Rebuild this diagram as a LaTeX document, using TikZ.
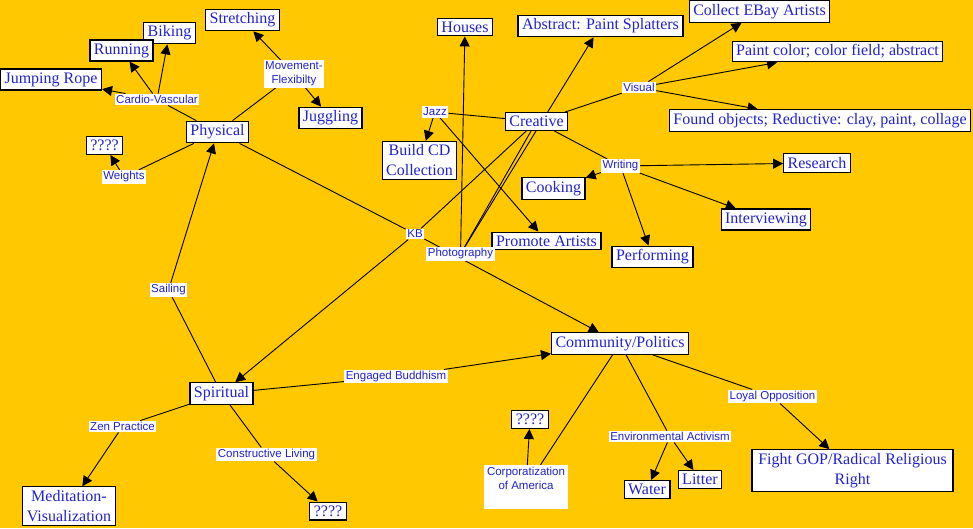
\documentclass[tikz,border=0pt]{standalone}
\usepackage{fontspec}
\setmainfont{Liberation Serif}
\newfontfamily\linkfont{Liberation Sans}
\usetikzlibrary{arrows.meta}
\definecolor{bgyellow}{HTML}{FFC800}
\definecolor{txtblue}{HTML}{2222CC}
\pgfdeclarelayer{bg}
\pgfdeclarelayer{edges}
\pgfsetlayers{bg,edges,main}
\tikzset{
  concept/.style={draw=black, line width=1.2pt, fill=white, text=txtblue,
    font=\fontsize{16}{20}\selectfont, inner xsep=4pt, inner ysep=3.5pt, align=center},
  linkph/.style={fill=white, text=txtblue, font=\linkfont\fontsize{11.5}{14}\selectfont,
    inner xsep=1.5pt, inner ysep=1.5pt, align=center},
  ln/.style={draw=black, line width=0.9pt},
  arr/.style={ln, -{Triangle[length=10pt,width=10pt]}}
}
\begin{document}
\begin{tikzpicture}[x=1pt,y=-1pt]
\begin{pgfonlayer}{bg}
\fill[bgyellow] (0,0) rectangle (973,528);
\end{pgfonlayer}
\useasboundingbox (0,0) rectangle (973,528);

% concepts
\node[concept] (stretch) at (242.5,20) {Stretching};
\node[concept] (biking) at (169.5,33) {Biking};
\node[concept] (running) at (121.5,50.5) {Running};
\node[concept] (jump) at (51,79.5) {Jumping Rope};
\node[concept] (juggling) at (330.5,118) {Juggling};
\node[concept] (physical) at (217.5,132) {Physical};
\node[concept] (q1) at (104.5,145.5) {????};
\node[concept] (houses) at (465,27) {Houses};
\node[concept] (abstract) at (600.5,26) {Abstract: Paint Splatters};
\node[concept] (ebay) at (759.5,11.5) {Collect EBay Artists};
\node[concept] (paintcolor) at (837.5,51.5) {Paint color; color field; abstract};
\node[concept] (found) at (820,120.5) {Found objects; Reductive: clay, paint, collage};
\node[concept] (creative) at (536.5,121.5) {Creative};
\node[concept] (buildcd) at (419.5,160.5) {Build CD\\Collection};
\node[concept] (cooking) at (553.5,188.5) {Cooking};
\node[concept] (research) at (817,163) {Research};
\node[concept] (interview) at (766,219.5) {Interviewing};
\node[concept] (promote) at (546.5,241) {Promote Artists};
\node[concept] (perform) at (652.5,257) {Performing};
\node[concept] (community) at (620,343.5) {Community/Politics};
\node[concept] (spiritual) at (221.5,393.5) {Spiritual};
\node[concept] (q2) at (530,419.5) {????};
\node[concept] (water) at (647,489.5) {Water};
\node[concept] (litter) at (700,479.5) {Litter};
\node[concept, minimum width=201pt] (fight) at (852.5,470.5) {Fight GOP/Radical Religious\\Right};
\node[concept] (medit) at (69,506) {Meditation-\\Visualization};
\node[concept] (q3) at (328,511) {????};

% linking phrases
\node[linkph] (cardio) at (157,99.5) {Cardio-Vascular};
\node[linkph] (movflex) at (294,74) {Movement-\\Flexibilty};
\node[linkph] (weights) at (124,177) {Weights};
\node[linkph] (jazz) at (435,112) {Jazz};
\node[linkph] (visual) at (639,87.5) {Visual};
\node[linkph] (writing) at (620.5,166) {Writing};
\node[linkph] (kb) at (415,234) {KB};
\node[linkph] (photo) at (460.5,254) {Photography};
\node[linkph] (sailing) at (168.5,290) {Sailing};
\node[linkph] (engaged) at (396,376.5) {Engaged Buddhism};
\node[linkph] (zen) at (122.5,426.5) {Zen Practice};
\node[linkph] (constr) at (266.5,454.5) {Constructive Living};
\node[linkph, inner sep=2pt] (corp) at (526,487) {\parbox[c][40pt][t]{80pt}{\centering Corporatization\\of America}};
\node[linkph] (envact) at (670,436.5) {Environmental Activism};
\node[linkph] (loyal) at (772.5,396.5) {Loyal Opposition};

\begin{pgfonlayer}{edges}
\draw[ln] (physical) -- (cardio);
\draw[arr] (cardio) -- (jump);
\draw[arr] (cardio) -- (running);
\draw[arr] (cardio) -- (biking);
\draw[ln] (physical) -- (movflex);
\draw[arr] (movflex) -- (stretch);
\draw[arr] (movflex) -- (juggling);
\draw[ln] (physical) -- (weights);
\draw[arr] (weights) -- (q1);
\draw[ln] (physical) -- (kb);
\draw[ln] (creative) -- (kb);
\draw[arr] (kb) -- (spiritual);
\draw[arr] (kb) -- (community);
\draw[ln] (spiritual) -- (sailing);
\draw[arr] (sailing) -- (physical);
\draw[ln] (creative) -- (jazz);
\draw[arr] (jazz) -- (buildcd);
\draw[arr] (jazz) -- (promote);
\draw[ln] (creative) -- (photo);
\draw[arr] (photo) -- (houses);
\draw[arr] (photo) -- (abstract);
\draw[ln] (creative) -- (visual);
\draw[arr] (visual) -- (ebay);
\draw[arr] (visual) -- (paintcolor);
\draw[arr] (visual) -- (found);
\draw[ln] (creative) -- (writing);
\draw[arr] (writing) -- (cooking);
\draw[arr] (writing) -- (research);
\draw[arr] (writing) -- (interview);
\draw[arr] (writing) -- (perform);
\draw[ln] (spiritual) -- (engaged);
\draw[arr] (engaged) -- (community);
\draw[ln] (spiritual) -- (zen);
\draw[arr] (zen) -- (medit);
\draw[ln] (spiritual) -- (constr);
\draw[arr] (constr) -- (q3);
\draw[ln] (community) -- (corp);
\draw[arr] (corp) -- (q2);
\draw[ln] (community) -- (envact);
\draw[arr] (envact) -- (water);
\draw[arr] (envact) -- (litter);
\draw[ln] (community) -- (loyal);
\draw[arr] (loyal) -- (fight);
\end{pgfonlayer}
\end{tikzpicture}
\end{document}
